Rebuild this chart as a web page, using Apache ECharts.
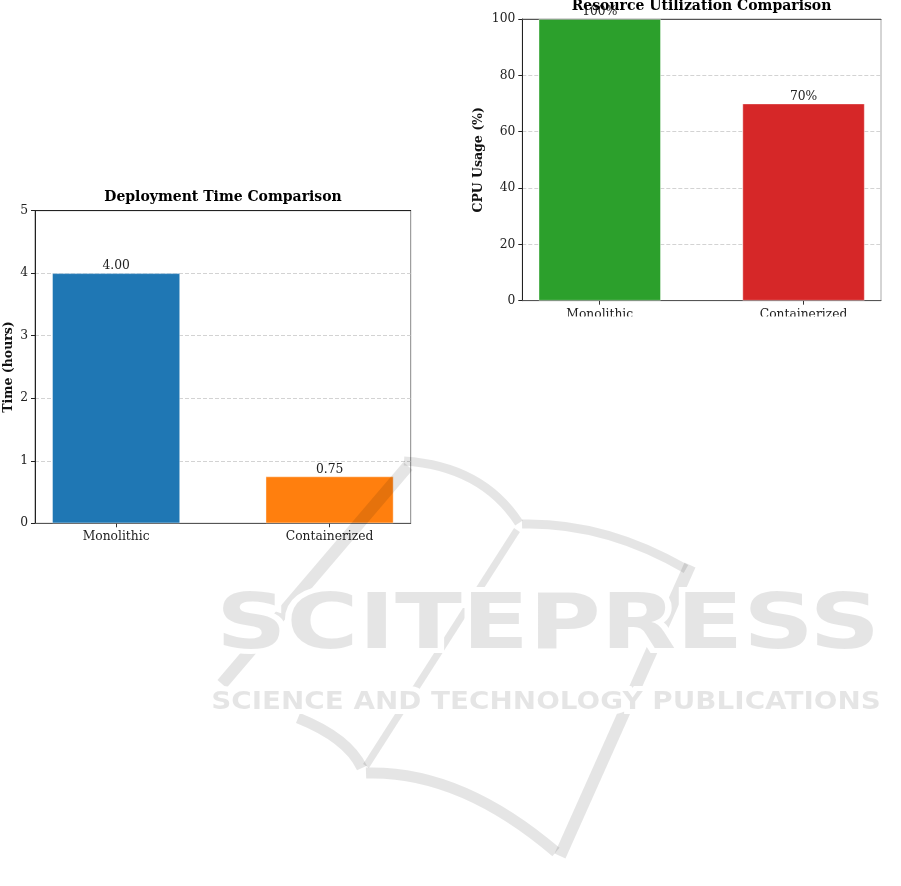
<!DOCTYPE html>
<html>
<head>
<meta charset="utf-8">
<script src="https://cdn.jsdelivr.net/npm/echarts@6/dist/echarts.min.js"></script>
<style>
html, body { margin: 0; padding: 0; background: #fff; }
#chart { width: 901px; height: 886px; }
</style>
</head>
<body>
<div id="chart"></div>
<script>
// 数据
const categories = ['Monolithic', 'Containerized']
const deployHours = [4.0, 0.75]
const cpuUsage = [100, 70]
const deployTicks = [0, 1, 2, 3, 4, 5]
const cpuTicks = [0, 20, 40, 60, 80, 100]
const deployColors = ['#1f77b4', '#ff7f0e']
const cpuColors = ['#2ca02c', '#d62728']

const SERIF = '"DejaVu Serif", serif'
const TICK_SIZE = 12.3
const xPos = categories.map((c, i) => i)

function barData (values, colors) {
  return values.map((v, i) => ({
    value: [xPos[i], v],
    itemStyle: { color: colors[i] }
  }))
}

function catAxis (gridIndex) {
  return {
    type: 'value',
    gridIndex: gridIndex,
    min: -0.38,
    max: 1.38,
    axisLine: { onZero: false, lineStyle: { color: '#555', width: 1 } },
    axisTick: { show: true, customValues: xPos, length: 4, lineStyle: { color: '#333' } },
    axisLabel: {
      customValues: xPos,
      formatter: v => categories[Math.round(v)],
      fontFamily: SERIF,
      fontSize: TICK_SIZE,
      color: '#222',
      margin: 8
    },
    splitLine: { show: false }
  }
}

function topLine (gridIndex, color) {
  return {
    type: 'value',
    gridIndex: gridIndex,
    position: 'top',
    min: -0.38,
    max: 1.38,
    axisLine: { show: true, onZero: false, lineStyle: { color: color, width: 1 } },
    axisTick: { show: false },
    axisLabel: { show: false },
    splitLine: { show: false }
  }
}

function valAxis (gridIndex, ticks, name, nameGap) {
  return {
    type: 'value',
    gridIndex: gridIndex,
    min: ticks[0],
    max: ticks[ticks.length - 1],
    interval: ticks[1] - ticks[0],
    name: name,
    nameLocation: 'middle',
    nameRotate: 90,
    nameGap: nameGap,
    nameTextStyle: { fontFamily: SERIF, fontWeight: 'bold', fontSize: 12.5, color: '#111' },
    axisLine: { show: true, onZero: false, lineStyle: { color: '#222', width: 1 } },
    axisTick: { show: true, length: 4, lineStyle: { color: '#222' } },
    axisLabel: { fontFamily: SERIF, fontSize: TICK_SIZE, color: '#222', margin: 7 },
    splitLine: { show: true, lineStyle: { type: [4, 2], color: '#c8c8c8', width: 0.8 } }
  }
}

// 水印
const wmColor = 'rgba(0,0,0,0.1)'
const wmLines = [
  { type: 'polyline', shape: { points: [[222, 684], [408, 466]] }, lw: 12 },
  { type: 'bezierCurve', shape: { x1: 404, y1: 461, cpx1: 482, cpy1: 466, x2: 519, y2: 523 }, lw: 9 },
  { type: 'bezierCurve', shape: { x1: 522, y1: 524, cpx1: 605, cpy1: 522, x2: 686, y2: 569 }, lw: 9 },
  { type: 'polyline', shape: { points: [[690, 565], [560, 856]] }, lw: 12 },
  { type: 'polyline', shape: { points: [[517, 530], [366, 766]] }, lw: 7 },
  { type: 'bezierCurve', shape: { x1: 298, y1: 718, cpx1: 348, cpy1: 738, x2: 362, y2: 768 }, lw: 11 },
  { type: 'bezierCurve', shape: { x1: 366, y1: 773, cpx1: 460, cpy1: 770, x2: 556, y2: 852 }, lw: 11 }
]

const graphics = []
wmLines.forEach(l => {
  graphics.push({
    type: l.type,
    shape: l.shape,
    z: 10,
    silent: true,
    style: { stroke: wmColor, lineWidth: l.lw, lineCap: 'butt', fill: null }
  })
})

const wmTexts = [
  { text: 'SCITEPRESS', x: 548, y: 628, font: 'bold 76px "DejaVu Sans"', sx: 1.29 },
  { text: 'SCIENCE AND TECHNOLOGY PUBLICATIONS', x: 546, y: 703, font: 'bold 24px "DejaVu Sans"', sx: 1.16 }
]
wmTexts.forEach(t => {
  const base = {
    type: 'text',
    x: t.x,
    y: t.y,
    scaleX: t.sx,
    silent: true
  }
  graphics.push(Object.assign({}, base, {
    z: 11,
    style: { text: t.text, font: t.font, x: 0, y: 0, textAlign: 'center', textVerticalAlign: 'middle', align: 'center', verticalAlign: 'middle', fill: '#fff', stroke: '#fff', lineWidth: 10 }
  }))
  graphics.push(Object.assign({}, base, {
    z: 12,
    style: { text: t.text, font: t.font, x: 0, y: 0, textAlign: 'center', textVerticalAlign: 'middle', align: 'center', verticalAlign: 'middle', fill: wmColor }
  }))
})

// 标题
const titles = [
  { text: 'Deployment Time Comparison', x: 223, y: 197 },
  { text: 'Resource Utilization Comparison', x: 701.5, y: 6.7 }
]
titles.forEach(t => {
  graphics.push({
    type: 'text',
    x: t.x,
    y: t.y,
    z: 20,
    style: { text: t.text, font: 'bold 14px ' + SERIF, textAlign: 'center', textVerticalAlign: 'middle', align: 'center', verticalAlign: 'middle', fill: '#000' }
  })
})

// 右图底部被裁切
graphics.push({
  type: 'rect',
  z: 100,
  silent: true,
  shape: { x: 455, y: 316.5, width: 446, height: 20 },
  style: { fill: '#fff' }
})

const chart = echarts.init(document.getElementById('chart'), null, { renderer: 'canvas' })
chart.setOption({
  backgroundColor: '#fff',
  animation: false,
  grid: [
    { left: 35, top: 210.7, width: 375.7, height: 312.6, show: true, borderColor: '#888', borderWidth: 1, backgroundColor: 'transparent' },
    { left: 522.3, top: 19, width: 358.7, height: 281.7, show: true, borderColor: '#aaa', borderWidth: 1, backgroundColor: 'transparent' }
  ],
  xAxis: [catAxis(0), catAxis(1), topLine(0, '#222'), topLine(1, '#555')],
  yAxis: [
    valAxis(0, deployTicks, 'Time (hours)', 20),
    valAxis(1, cpuTicks, 'CPU Usage (%)', 37)
  ],
  series: [
    {
      type: 'bar',
      xAxisIndex: 0,
      yAxisIndex: 0,
      barWidth: 128,
      data: barData(deployHours, deployColors),
      itemStyle: { borderColor: 'rgba(255,255,255,0.5)', borderWidth: 0.8 },
      label: {
        show: true,
        position: 'top',
        distance: 1,
        formatter: p => p.value[1].toFixed(2),
        fontFamily: SERIF,
        fontSize: TICK_SIZE,
        color: '#222'
      }
    },
    {
      type: 'bar',
      xAxisIndex: 1,
      yAxisIndex: 1,
      barWidth: 122.3,
      data: barData(cpuUsage, cpuColors),
      itemStyle: { borderColor: 'rgba(255,255,255,0.5)', borderWidth: 0.8 },
      label: {
        show: true,
        position: 'top',
        distance: 1,
        formatter: p => p.value[1] + '%',
        fontFamily: SERIF,
        fontSize: TICK_SIZE,
        color: '#222'
      }
    }
  ],
  graphic: { elements: graphics }
})
</script>
</body>
</html>
